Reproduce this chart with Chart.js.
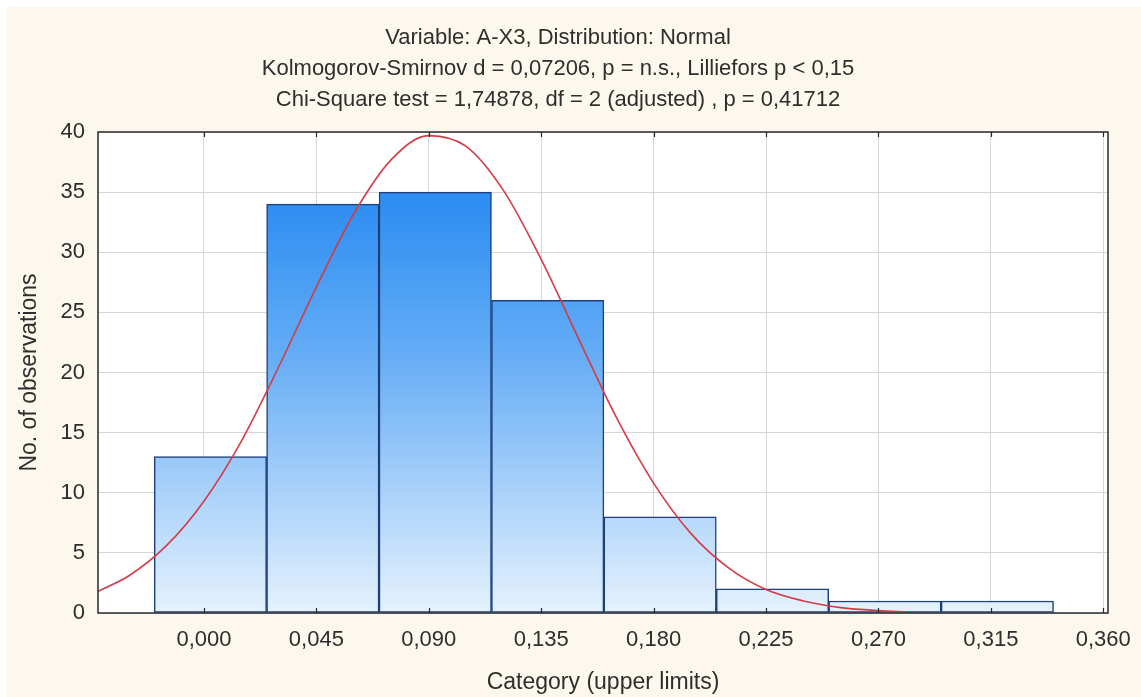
<!DOCTYPE html>
<html>
<head>
<meta charset="utf-8">
<script src="https://cdn.jsdelivr.net/npm/chart.js@4/dist/chart.umd.min.js"></script>
<style>
  html, body { margin: 0; padding: 0; background: #ffffff; }
  #wrap { width: 1141px; height: 697px; position: relative; }
</style>
</head>
<body>
<div id="wrap"><canvas id="c" width="1141" height="697"></canvas></div>
<script>
// Histogram of A-X3 with fitted normal curve
const titleLines = [
  'Variable: A-X3, Distribution: Normal',
  'Kolmogorov-Smirnov d = 0,07206, p = n.s., Lilliefors p < 0,15',
  'Chi-Square test = 1,74878, df = 2 (adjusted) , p = 0,41712'
];
const xAxisTitle = 'Category (upper limits)';
const yAxisTitle = 'No. of observations';

// bin centres and observed counts
const binCenters = [0.0026, 0.0476, 0.0926, 0.1376, 0.1826, 0.2276, 0.2726, 0.3176];
const binCounts  = [13, 34, 35, 26, 8, 2, 1, 1];

// expected counts along the fitted normal curve
const curveX = [-0.0424, -0.03, -0.015, 0, 0.015, 0.03, 0.045, 0.06, 0.075, 0.09, 0.105, 0.12,
                0.135, 0.15, 0.165, 0.18, 0.195, 0.21, 0.225, 0.24, 0.255, 0.27, 0.282];
const curveY = [1.8, 3.1, 5.6, 9.3, 14.3, 20.5, 27.1, 33.2, 37.7, 39.7, 38.8, 35.1,
                29.4, 22.8, 16.3, 10.8, 6.6, 3.75, 1.95, 1.0, 0.45, 0.2, 0.1];

// axis ticks
const xTickValues = [0, 0.045, 0.09, 0.135, 0.18, 0.225, 0.27, 0.315, 0.36];
const xTickLabels = ['0,000', '0,045', '0,090', '0,135', '0,180', '0,225', '0,270', '0,315', '0,360'];
const yTickValues = [0, 5, 10, 15, 20, 25, 30, 35, 40];

const FONT = '"Liberation Sans", Arial, sans-serif';
const TEXT = '#2e2e2e';

const barData = binCenters.map((x, i) => ({ x: x, y: binCounts[i] }));
const curveData = curveX.map((x, i) => ({ x: x, y: curveY[i] }));

function barGradient(ctx) {
  const chart = ctx.chart;
  const area = chart.chartArea;
  if (!area) return '#5aa8f5';
  const g = chart.ctx.createLinearGradient(0, area.top, 0, area.bottom);
  g.addColorStop(0, '#1580f0');
  g.addColorStop(0.45, '#62abf6');
  g.addColorStop(1, '#e6f2fd');
  return g;
}

const framePlugin = {
  id: 'frame',
  beforeDraw(chart) {
    const { ctx, chartArea: a, width, height } = chart;
    ctx.save();
    ctx.fillStyle = '#ffffff';
    ctx.fillRect(0, 0, width, height);
    ctx.fillStyle = '#fdf8ee';
    ctx.fillRect(7, 7, width - 7, height - 7);
    ctx.fillStyle = '#ffffff';
    ctx.fillRect(a.left, a.top, a.right - a.left, a.bottom - a.top);
    ctx.restore();
  },
  afterDatasetsDraw(chart) {
    const { ctx, chartArea: a } = chart;
    const xs = chart.scales.x;
    ctx.save();
    ctx.strokeStyle = '#2a2a2a';
    ctx.lineWidth = 1.5;
    ctx.strokeRect(a.left, a.top, a.right - a.left, a.bottom - a.top);
    ctx.lineWidth = 1.2;
    ctx.beginPath();
    xs.ticks.forEach((t, i) => {
      const px = Math.round(xs.getPixelForTick(i)) + 0.5;
      ctx.moveTo(px, a.top);
      ctx.lineTo(px, a.top + 5);
      ctx.moveTo(px, a.bottom);
      ctx.lineTo(px, a.bottom - 5);
    });
    ctx.stroke();
    ctx.restore();
  }
};

new Chart(document.getElementById('c'), {
  type: 'bar',
  data: {
    datasets: [
      {
        type: 'line',
        data: curveData,
        borderColor: '#d23c46',
        borderWidth: 1.6,
        pointRadius: 0,
        fill: false,
        cubicInterpolationMode: 'monotone',
        order: 0
      },
      {
        type: 'bar',
        data: barData,
        backgroundColor: barGradient,
        borderColor: '#1d3f7c',
        borderWidth: 1.5,
        borderSkipped: false,
        barPercentage: 1,
        categoryPercentage: 1,
        order: 1
      }
    ]
  },
  options: {
    responsive: false,
    animation: false,
    devicePixelRatio: 1,
    layout: { padding: { left: 8, right: 33, top: 0, bottom: 0 } },
    plugins: {
      legend: { display: false },
      tooltip: { enabled: false },
      title: {
        display: true,
        text: titleLines,
        color: TEXT,
        font: { family: FONT, size: 22, weight: 'normal', lineHeight: '31px' },
        padding: { top: 22.5, bottom: 16.5 }
      }
    },
    scales: {
      x: {
        type: 'linear',
        min: -0.0424,
        max: 0.3619,
        offset: false,
        grid: { offset: false, color: '#d6d6d6', lineWidth: 1, drawTicks: false },
        border: { display: false },
        afterBuildTicks(scale) { scale.ticks = xTickValues.map(v => ({ value: v })); },
        afterFit(scale) { scale.height = 84; scale.paddingLeft = 0; scale.paddingRight = 0; },
        ticks: {
          color: TEXT,
          padding: 13.8,
          maxRotation: 0,
          autoSkip: false,
          font: { family: FONT, size: 22 },
          callback: (v, i) => xTickLabels[i]
        },
        title: {
          display: true,
          text: xAxisTitle,
          color: TEXT,
          font: { family: FONT, size: 23 },
          padding: { top: 0, bottom: 0.2 }
        }
      },
      y: {
        min: 0,
        max: 40,
        grid: { color: '#d6d6d6', lineWidth: 1, drawTicks: false },
        border: { display: false },
        afterBuildTicks(scale) { scale.ticks = yTickValues.map(v => ({ value: v })); },
        afterFit(scale) { scale.width = 90; scale.paddingTop = 0; scale.paddingBottom = 0; },
        ticks: {
          color: TEXT,
          padding: 13,
          font: { family: FONT, size: 22 },
          callback: v => String(v)
        },
        title: {
          display: true,
          text: yAxisTitle,
          color: TEXT,
          font: { family: FONT, size: 23 },
          padding: { top: 8.2, bottom: 0 }
        }
      }
    }
  },
  plugins: [framePlugin]
});
</script>
</body>
</html>
